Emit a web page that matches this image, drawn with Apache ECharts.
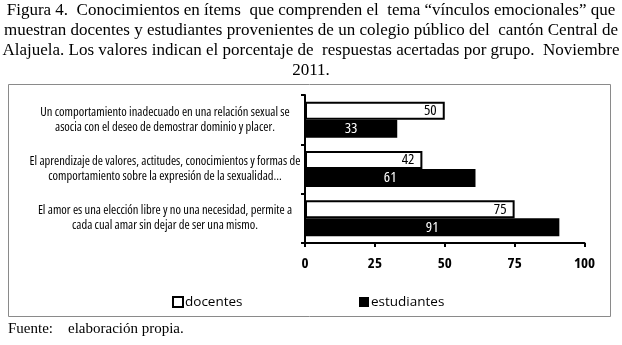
<!DOCTYPE html>
<html><head><meta charset="utf-8">
<script src="https://cdn.jsdelivr.net/npm/echarts@6/dist/echarts.min.js"></script>
<style>html,body{margin:0;padding:0;background:#fff}#c{width:622px;height:345px}</style>
</head><body><div id="c"></div>
<script>
const categories = [
  "Un comportamiento inadecuado en una relación sexual se\nasocia con el deseo de demostrar dominio y placer.",
  "El aprendizaje de valores, actitudes, conocimientos y formas de\ncomportamiento sobre la expresión de la sexualidad...",
  "El amor es una elección libre y no una necesidad, permite a\ncada cual amar sin dejar de ser una mismo."
];
const docentes = [50, 42, 75];
const estudiantes = [33, 61, 91];
const xTicks = [0, 25, 50, 75, 100];
const titleLines = [
  "Figura 4.  Conocimientos en ítems  que comprenden el  tema “vínculos emocionales” que",
  "muestran docentes y estudiantes provenientes de un colegio público del  cantón Central de",
  "Alajuela. Los valores indican el porcentaje de  respuestas acertadas por grupo.  Noviembre",
  "2011."
];
const sourceText = "Fuente:    elaboración propia.";

const narrow = '"Open Sans", "DejaVu Sans Condensed", sans-serif';
const serif = '"Liberation Serif", "Times New Roman", serif';
const chart = echarts.init(document.getElementById('c'), null, {renderer: 'canvas'});
const legendBase = {
  top: 290, itemWidth: 10, itemHeight: 10, icon: 'rect',
  textStyle: {fontFamily: '"Open Sans", sans-serif', fontSize: 13.5, color: '#000', padding: [0, 0, 0, -3]}
};
chart.setOption({
  animation: false,
  backgroundColor: '#fff',
  graphic: [
    {type: 'rect', shape: {x: 8.5, y: 84.5, width: 602, height: 232}, style: {fill: 'none', stroke: '#8a8a8a', lineWidth: 1}, z: 0},
    ...titleLines.map((t, i) => ({
      type: 'text', left: 'center', top: 2 + i * 20,
      style: {text: t, font: '17px ' + serif, fill: '#000'}
    })),
    {type: 'text', left: 8, top: 322, style: {text: sourceText, font: '15px ' + serif, fill: '#000'}}
  ],
  grid: {left: 305, right: 37.5, top: 95, bottom: 102, containLabel: false, outerBoundsMode: 'none'},
  legend: [
    Object.assign({}, legendBase, {left: 167, data: [{name: 'docentes', itemStyle: {color: '#fff', borderColor: '#000', borderWidth: 2}}]}),
    Object.assign({}, legendBase, {left: 354, data: [{name: 'estudiantes', itemStyle: {color: '#000'}}]})
  ],
  xAxis: {
    type: 'value', min: 0, max: 100, interval: 25,
    axisLine: {show: true, lineStyle: {color: '#000', width: 2}},
    axisTick: {show: true, length: 4, lineStyle: {color: '#000', width: 2}},
    splitLine: {show: false},
    axisLabel: {
      margin: 13, color: '#000', fontStyle: 'condensed', fontWeight: 'bold', fontSize: 15, fontFamily: narrow,
      formatter: v => xTicks.includes(v) ? String(v) : ''
    }
  },
  yAxis: {
    type: 'category', data: categories, inverse: true,
    axisLine: {show: true, lineStyle: {color: '#000', width: 2}},
    axisTick: {show: true, length: 4, lineStyle: {color: '#000', width: 2}},
    axisLabel: {
      align: 'center', margin: 140, color: '#000', fontStyle: 'condensed', fontSize: 12.5, lineHeight: 15, fontFamily: narrow
    }
  },
  series: [
    {
      name: 'docentes', type: 'bar', data: docentes, barGap: '0%', barCategoryGap: '27%',
      itemStyle: {color: '#fff', borderColor: '#000', borderWidth: 2},
      label: {show: true, position: 'insideRight', distance: 8, color: '#000', fontStyle: 'condensed', fontSize: 15, fontFamily: narrow}
    },
    {
      name: 'estudiantes', type: 'bar', data: estudiantes, barGap: '0%', barCategoryGap: '27%',
      itemStyle: {color: '#000'},
      label: {show: true, position: 'inside', color: '#fff', fontStyle: 'condensed', fontSize: 15, fontFamily: narrow}
    }
  ]
});
</script></body></html>
